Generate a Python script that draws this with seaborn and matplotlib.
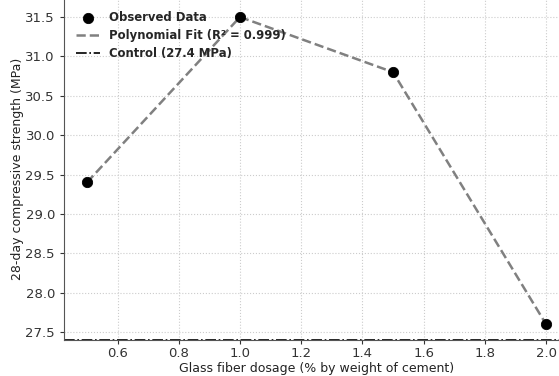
import matplotlib
matplotlib.use("Agg")
import matplotlib.pyplot as plt
import seaborn as sns
import pandas as pd

dosage = [0.5, 1.0, 1.5, 2.0]
strength = [29.4, 31.5, 30.8, 27.6]
control = 27.4
r2 = 0.999

sns.set_style("white")
plt.rcParams['font.family'] = ['DejaVu Sans']

df = pd.DataFrame({"dosage": dosage, "strength": strength})

W, H = 559, 376
fig = plt.figure(figsize=(W / 100, H / 100), dpi=100)
# axes extends past the right and top edges (reference is cropped)
left_px, right_px, bottom_px, top_px = 64, 569, 340, -3
ax = fig.add_axes([left_px / W, (H - bottom_px) / H,
                   (right_px - left_px) / W, (bottom_px - top_px) / H])

sns.lineplot(data=df, x="dosage", y="strength", ax=ax, color="gray",
             linestyle="--", linewidth=1.8, label=f"Polynomial Fit (R² = {r2})",
             zorder=2)
sns.scatterplot(data=df, x="dosage", y="strength", ax=ax, color="black",
                s=55, label="Observed Data", zorder=3, edgecolor="black")
ax.axhline(control, color="black", linestyle="-.", linewidth=1.2,
           label=f"Control ({control} MPa)")

ax.set_xlim(0.425, 2.075)
ax.set_ylim(27.4, 31.5 + 20 / 78.75)
ax.set_xticks([0.6, 0.8, 1.0, 1.2, 1.4, 1.6, 1.8, 2.0])
ax.set_yticks([27.5, 28.0, 28.5, 29.0, 29.5, 30.0, 30.5, 31.0, 31.5])
ax.tick_params(axis="both", labelsize=9.5, colors="#333333", length=3,
               direction="out", left=True, bottom=True)
ax.tick_params(axis="x", pad=2)
ax.grid(True, linestyle=":", color="#cccccc", linewidth=0.8)
for s in ["top", "right"]:
    ax.spines[s].set_visible(False)
for s in ["left", "bottom"]:
    ax.spines[s].set_color("#555555")

ax.set_xlabel("Glass fiber dosage (% by weight of cement)", fontsize=9,
              color="#222222", labelpad=1.5)
ax.set_ylabel("28-day compressive strength (MPa)", fontsize=9,
              color="#222222", labelpad=1)

handles, labels = ax.get_legend_handles_labels()
order = [labels.index("Observed Data"), labels.index(f"Polynomial Fit (R² = {r2})"),
         labels.index(f"Control ({control} MPa)")]
ax.legend([handles[i] for i in order], [labels[i] for i in order],
          loc="upper left", frameon=False, prop={"weight": "bold", "size": 8.4},
          bbox_to_anchor=(0.008, 0.983), borderaxespad=0.3, handlelength=2.0,
          labelspacing=0.42)

fig.savefig("out.png", dpi=100)
